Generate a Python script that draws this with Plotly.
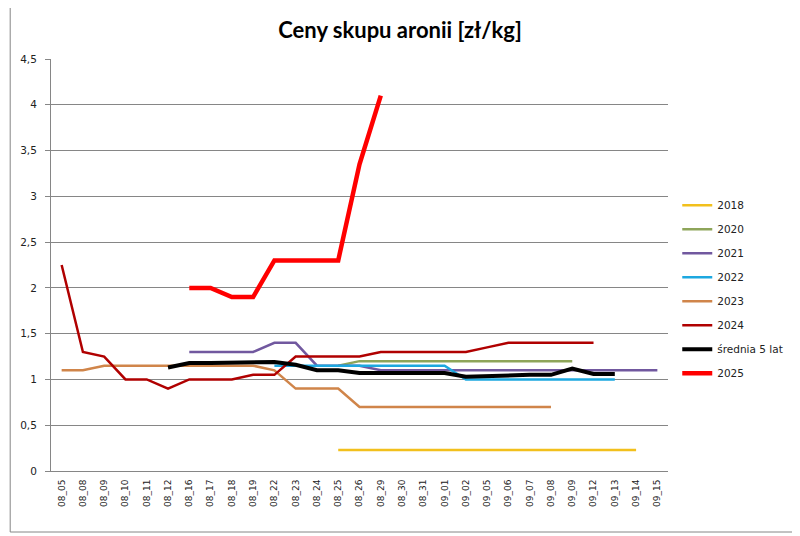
import plotly.graph_objects as go

dates = ["08_05", "08_08", "08_09", "08_10", "08_11", "08_12", "08_16", "08_17",
         "08_18", "08_19", "08_22", "08_23", "08_24", "08_25", "08_26", "08_29",
         "08_30", "08_31", "09_01", "09_02", "09_05", "09_06", "09_07", "09_08",
         "09_09", "09_12", "09_13", "09_14", "09_15"]

N = None
y2018 = [N] * 13 + [0.23] * 15 + [N]
y2020 = [N] * 13 + [1.15] + [1.2] * 11 + [N] * 4
y2021 = [N] * 6 + [1.3, 1.3, 1.3, 1.3, 1.4, 1.4, 1.15, 1.15, 1.15] + [1.1] * 14
y2022 = [N] * 10 + [1.15] * 9 + [1.0] * 8 + [N] * 2
y2023 = [1.1, 1.1, 1.15, 1.15, 1.15, 1.15, 1.15, 1.15, 1.15, 1.15, 1.1, 0.9,
         0.9, 0.9] + [0.7] * 10 + [N] * 5
y2024 = [2.25, 1.3, 1.25, 1.0, 1.0, 0.9, 1.0, 1.0, 1.0, 1.05, 1.05, 1.25, 1.25,
         1.25, 1.25, 1.3, 1.3, 1.3, 1.3, 1.3, 1.35, 1.4, 1.4, 1.4, 1.4, 1.4,
         N, N, N]
y_avg = [N] * 5 + [1.13, 1.18, 1.18, 1.18, 1.18, 1.19, 1.16, 1.1, 1.1, 1.07,
                   1.07, 1.07, 1.07, 1.07, 1.03, 1.04, 1.05, 1.05, 1.05, 1.12,
                   1.06, 1.06, N, N]
y2025 = [N] * 6 + [2.0, 2.0, 1.9, 1.9, 2.3, 2.3, 2.3, 2.3, 3.35, 4.1] + [N] * 13

series = [
    ("2018", y2018, "#F2C01C", 2.5),
    ("2020", y2020, "#8EA55A", 2.5),
    ("2021", y2021, "#71589F", 2.5),
    ("2022", y2022, "#1DA8E0", 2.5),
    ("2023", y2023, "#D0854A", 2.5),
    ("2024", y2024, "#B00000", 2.5),
    ("średnia 5 lat", y_avg, "#000000", 4),
    ("2025", y2025, "#FF0000", 4.5),
]

fig = go.Figure()
for name, vals, color, width in series:
    fig.add_trace(go.Scatter(
        x=dates, y=vals, name=name, mode="lines", legendgroup=name,
        line=dict(color=color, width=width),
    ))

# the page body adds an 8px margin, so the figure is a bit smaller and shifted
fig.update_layout(
    width=792, height=528,
    paper_bgcolor="#ffffff", plot_bgcolor="#ffffff",
    margin=dict(l=41, r=131, t=51, b=65),
    separators=", ",
    font=dict(family="DejaVu Sans", size=10, color="#222222"),
    title=dict(text="<b>Ceny skupu aronii [zł/kg]</b>", x=(400 - 8) / 792,
               xanchor="center", y=1 - 22 / 528, yanchor="middle",
               font=dict(family="Lato", size=22, color="#000000")),
    legend=dict(x=1.015, xanchor="left", y=0.68, yanchor="top",
                font=dict(size=10.5), tracegroupgap=5,
                bgcolor="rgba(0,0,0,0)"),
    showlegend=True,
)
fig.update_xaxes(
    type="category", range=[-0.5, len(dates) - 0.5], tickangle=-90,
    showgrid=False, showline=True, linecolor="#868686", linewidth=1,
    ticks="", tickfont=dict(size=9), ticklabelstandoff=4,
)
fig.update_yaxes(
    range=[0, 4.5], dtick=0.5, showgrid=True, gridcolor="#868686", gridwidth=1,
    showline=True, linecolor="#868686", linewidth=1, ticks="outside",
    ticklen=5, tickcolor="#868686", zeroline=False, tickfont=dict(size=10.5),
    ticklabelstandoff=6,
)
fig.add_shape(type="rect", xref="paper", yref="paper",
              x0=-41 / 620, x1=(788 - 41) / 620,
              y0=(463 - 524) / 412, y1=(463 + 1) / 412,
              line=dict(color="#868686", width=1), fillcolor="rgba(0,0,0,0)")

fig.write_html("out.html")
